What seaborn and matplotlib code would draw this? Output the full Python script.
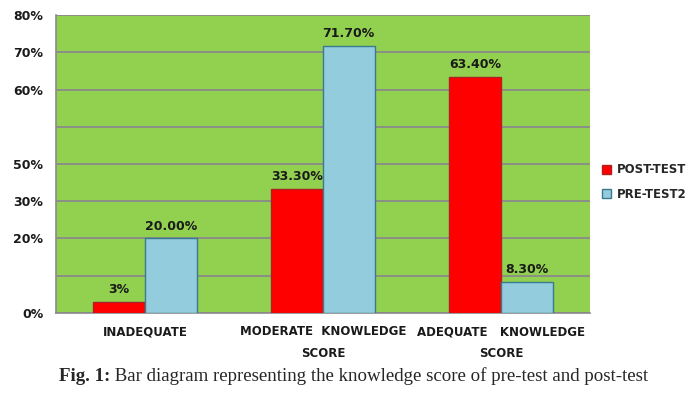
import pandas as pd
import matplotlib
matplotlib.use("Agg")
import matplotlib.pyplot as plt
from matplotlib.patches import Patch
import seaborn as sns

categories = ["INADEQUATE", "MODERATE  KNOWLEDGE\nSCORE", "ADEQUATE   KNOWLEDGE\nSCORE"]
post_test = [3.0, 33.3, 63.4]
pre_test = [20.0, 71.7, 8.3]
post_labels = ["3%", "33.30%", "63.40%"]
pre_labels = ["20.00%", "71.70%", "8.30%"]
series_names = ["POST-TEST", "PRE-TEST2"]
y_ticks = [0, 10, 20, 30, 40, 50, 60, 70, 80]
y_tick_labels = ["0%", "", "20%", "30%", "50%", "", "60%", "70%", "80%"]

df = pd.DataFrame({
    "category": categories * 2,
    "value": post_test + pre_test,
    "series": [series_names[0]] * 3 + [series_names[1]] * 3,
})

sns.set_style("white")
plt.rcParams["font.family"] = ["DejaVu Sans"]

fill_colors = ["#FF0000", "#93CDDD"]
edge_colors = ["#B02020", "#3A7A90"]
bg_green = "#92D050"
text_dark = "#1a1a1a"

fig = plt.figure(figsize=(6.99, 3.97), dpi=100)
ax = fig.add_axes([0.080, 0.212, 0.764, 0.750])
ax.set_facecolor(bg_green)

sns.barplot(data=df, x="category", y="value", hue="series", palette=fill_colors,
            width=0.58, saturation=1, ax=ax, legend=False, zorder=3)

for cont, ec, labs in zip(ax.containers, edge_colors, [post_labels, pre_labels]):
    for bar in cont:
        bar.set_edgecolor(ec)
        bar.set_linewidth(1.0)
    ax.bar_label(cont, labels=labs, padding=4, fontsize=9, fontweight="bold",
                 color=text_dark)

ax.set_ylim(0, 80)
ax.set_xlim(-0.5, 2.5)
ax.set_yticks(y_ticks)
ax.set_yticklabels(y_tick_labels, fontsize=9, fontweight="bold", color=text_dark)
ax.yaxis.grid(True, color="#8a8a8a", linewidth=1.3, zorder=0)
ax.set_axisbelow(True)
ax.set_xlabel("")
ax.set_ylabel("")

ax.set_xticks([0, 1, 2])
ax.set_xticklabels(categories, fontsize=8.5, fontweight="bold", color=text_dark,
                   linespacing=1.9)
ax.set_xticks([-0.5, 0.5, 1.5, 2.5], minor=True)
ax.tick_params(axis="x", which="major", length=0, pad=9)
ax.tick_params(axis="x", which="minor", length=5, color="#8a8a8a", width=1.2)
ax.tick_params(axis="y", length=5, color="#8a8a8a", width=1.2, pad=4)

for side in ["top", "right"]:
    ax.spines[side].set_visible(False)
for side in ["left", "bottom"]:
    ax.spines[side].set_color("#8a8a8a")
    ax.spines[side].set_linewidth(1.2)

handles = [Patch(facecolor=fc, edgecolor=ec, label=n)
           for fc, ec, n in zip(fill_colors, edge_colors, series_names)]
fig.legend(handles=handles, loc="upper left", bbox_to_anchor=(0.846, 0.615),
           frameon=False, handlelength=0.8, handleheight=0.8, handletextpad=0.5,
           labelspacing=0.95, prop={"weight": "bold", "size": 8.5})

# caption with bold prefix
cap_y = 0.04
bold_part = "Fig. 1:"
rest_part = " Bar diagram representing the knowledge score of pre-test and post-test"
cap_font = ["Liberation Serif", "DejaVu Serif"]
t1 = fig.text(0, cap_y, bold_part, fontsize=13.6, fontweight="bold", family=cap_font)
t2 = fig.text(0, cap_y, rest_part, fontsize=13.6, family=cap_font)
fig.canvas.draw()
r = fig.canvas.get_renderer()
w1 = t1.get_window_extent(r).width
w2 = t2.get_window_extent(r).width
x0 = (fig.bbox.width - (w1 + w2)) / 2 + 4
t1.set_x(x0 / fig.bbox.width)
t2.set_x((x0 + w1) / fig.bbox.width)

fig.savefig("out.png", dpi=100)
